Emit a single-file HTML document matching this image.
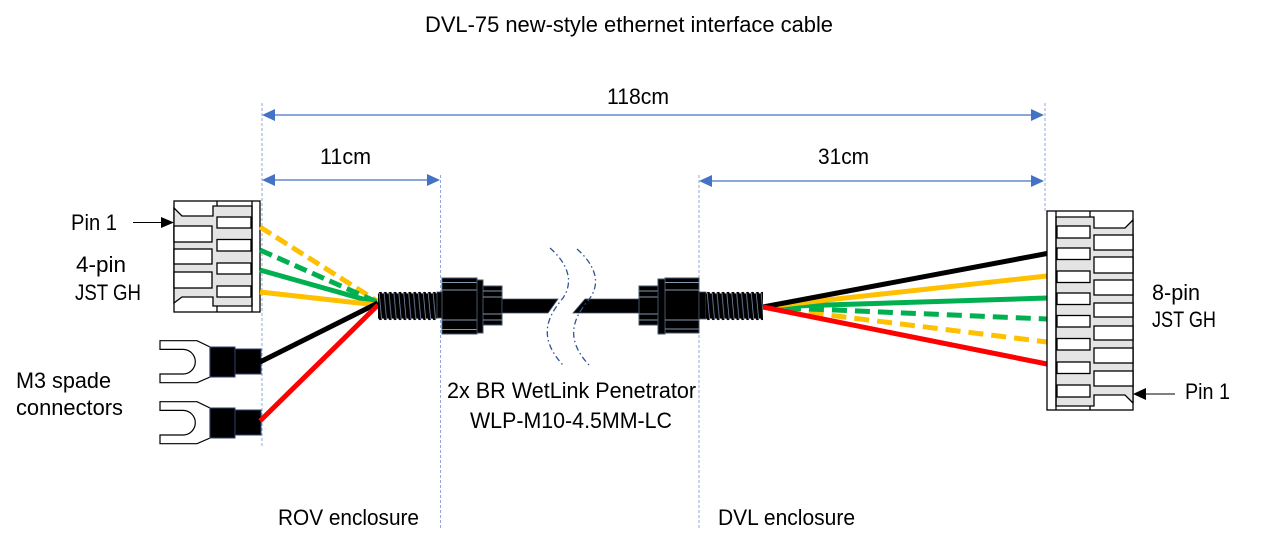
<!DOCTYPE html>
<html><head><meta charset="utf-8"><style>
html,body{margin:0;padding:0;background:#fff;}
svg{display:block;}
text{font-family:"Liberation Sans",Arial,sans-serif;font-size:22px;fill:#000;}
</style></head><body>
<svg width="1261" height="545" viewBox="0 0 1261 545" xmlns="http://www.w3.org/2000/svg">
<defs>
<pattern id="thrL" patternUnits="userSpaceOnUse" x="378" y="291" width="4.9" height="30">
<rect x="0" y="2.5" width="4.9" height="25" fill="#000"/>
<circle cx="2.4" cy="2.6" r="1.7" fill="#000"/>
<circle cx="2.4" cy="27.4" r="1.7" fill="#000"/>
<line x1="1.2" y1="2" x2="3.6" y2="28" stroke="#7d8db0" stroke-width="0.8"/>
</pattern>
<pattern id="thrR" patternUnits="userSpaceOnUse" x="706" y="291" width="4.9" height="30">
<rect x="0" y="2.5" width="4.9" height="25" fill="#000"/>
<circle cx="2.4" cy="2.6" r="1.7" fill="#000"/>
<circle cx="2.4" cy="27.4" r="1.7" fill="#000"/>
<line x1="1.2" y1="2" x2="3.6" y2="28" stroke="#7d8db0" stroke-width="0.8"/>
</pattern>
</defs>

<!-- Title -->
<text x="425" y="32" textLength="408" lengthAdjust="spacingAndGlyphs">DVL-75 new-style ethernet interface cable</text>

<!-- dashed vertical guides -->
<g stroke="#8FAADC" stroke-width="1" stroke-dasharray="3 2" fill="none">
<line x1="262" y1="103" x2="262" y2="446"/>
<line x1="440.5" y1="175" x2="440.5" y2="530"/>
<line x1="699" y1="175" x2="699" y2="530"/>
<line x1="1045" y1="103" x2="1045" y2="211"/>
</g>

<!-- dimension arrows -->
<g stroke="#4472C4" stroke-width="1.3">
<line x1="270" y1="115" x2="1036" y2="115"/>
<line x1="270" y1="180" x2="432" y2="180"/>
<line x1="707" y1="181" x2="1036" y2="181"/>
</g>
<g fill="#4472C4">
<polygon points="262,115 275,109 275,121"/>
<polygon points="1044,115 1031,109 1031,121"/>
<polygon points="262,180 275,174 275,186"/>
<polygon points="440,180 427,174 427,186"/>
<polygon points="699,181 712,175 712,187"/>
<polygon points="1044,181 1031,175 1031,187"/>
</g>
<text x="607" y="104" textLength="62" lengthAdjust="spacingAndGlyphs">118cm</text>
<text x="320" y="164" textLength="51" lengthAdjust="spacingAndGlyphs">11cm</text>
<text x="818" y="164" textLength="51" lengthAdjust="spacingAndGlyphs">31cm</text>

<!-- Left labels -->
<text x="71" y="230" textLength="46" lengthAdjust="spacingAndGlyphs">Pin 1</text>
<text x="76" y="272" textLength="50" lengthAdjust="spacingAndGlyphs">4-pin</text>
<text x="75" y="300" textLength="66" lengthAdjust="spacingAndGlyphs">JST GH</text>
<text x="16" y="388" textLength="95" lengthAdjust="spacingAndGlyphs">M3 spade</text>
<text x="16" y="415" textLength="107" lengthAdjust="spacingAndGlyphs">connectors</text>

<!-- Pin 1 arrow left -->
<line x1="133" y1="222.5" x2="163" y2="222.5" stroke="#000" stroke-width="1"/>
<polygon points="161,217 174,222.5 161,228" fill="#000"/>

<!-- 4-pin connector -->
<g stroke="#000" stroke-width="1.3">
<rect x="174" y="201" width="86" height="111" fill="#fff"/>
<polygon points="174,208 182,216 213,216 213,206 252,206 252,306 213,306 213,297 182,297 174,303" fill="#e4e4e4"/>
<line x1="252" y1="201" x2="252" y2="312"/>
<line x1="217" y1="201" x2="217" y2="206"/>
<line x1="217" y1="306" x2="217" y2="312"/>
<g fill="#fff">
<rect x="174" y="226" width="38" height="16"/>
<rect x="174" y="249" width="38" height="15"/>
<rect x="174" y="272" width="38" height="16"/>
<rect x="217" y="217" width="34" height="11"/>
<rect x="217" y="239.5" width="34" height="11.5"/>
<rect x="217" y="263" width="34" height="11"/>
<rect x="217" y="286" width="34" height="11"/>
</g>
</g>

<!-- Spade connectors -->
<g>
<path d="M160,340.7 L197,340.7 L210,347 L210,377 L197,382.7 L160,382.7 L160,374 L183,374 A12.3,12.3 0 0 0 183,349.4 L160,349.4 Z" fill="#fff" stroke="#000" stroke-width="1.2"/>
<rect x="210" y="347" width="25" height="30" fill="#000" stroke="#2F3F6F" stroke-width="1"/>
<rect x="235" y="349" width="26" height="25" fill="#000" stroke="#2F3F6F" stroke-width="1"/>
</g>
<g transform="translate(0,61)">
<path d="M160,340.7 L197,340.7 L210,347 L210,377 L197,382.7 L160,382.7 L160,374 L183,374 A12.3,12.3 0 0 0 183,349.4 L160,349.4 Z" fill="#fff" stroke="#000" stroke-width="1.2"/>
<rect x="210" y="347" width="25" height="30" fill="#000" stroke="#2F3F6F" stroke-width="1"/>
<rect x="235" y="349" width="26" height="25" fill="#000" stroke="#2F3F6F" stroke-width="1"/>
</g>

<!-- Left wires -->
<g stroke-width="5" fill="none">
<line x1="260" y1="227" x2="377" y2="301" stroke="#FFC000" stroke-dasharray="13 6"/>
<line x1="260" y1="250" x2="377" y2="302" stroke="#00B050" stroke-dasharray="13 6"/>
<line x1="260" y1="270" x2="377" y2="303" stroke="#00B050"/>
<line x1="260" y1="292" x2="377" y2="305" stroke="#FFC000"/>
<line x1="260" y1="362" x2="378" y2="303" stroke="#000"/>
<line x1="260" y1="421" x2="378" y2="305" stroke="#FF0000"/>
</g>

<!-- Left penetrator -->
<rect x="378" y="291" width="59.5" height="30" fill="url(#thrL)"/>
<rect x="437" y="292" width="5" height="26" fill="#000" stroke="#44546A" stroke-width="0.8"/>
<rect x="442" y="278" width="35" height="56" fill="#000" stroke="#44546A" stroke-width="1"/>
<g stroke="#8497B0" stroke-width="1">
<line x1="442" y1="282.5" x2="477" y2="282.5"/>
<line x1="442" y1="290" x2="477" y2="290"/>
<line x1="442" y1="320" x2="477" y2="320"/>
<line x1="442" y1="329.5" x2="477" y2="329.5"/>
</g>
<rect x="477" y="280" width="6" height="53" fill="#000" stroke="#44546A" stroke-width="1"/>
<rect x="483" y="286" width="19" height="39" fill="#000" stroke="#44546A" stroke-width="1"/>
<g stroke="#8497B0" stroke-width="1">
<line x1="483" y1="291" x2="502" y2="291"/>
<line x1="483" y1="297" x2="502" y2="297"/>
<line x1="483" y1="314" x2="502" y2="314"/>
<line x1="483" y1="320" x2="502" y2="320"/>
</g>
<polygon points="502,299 558,299 548,313 502,313" fill="#000" stroke="#44546A" stroke-width="0.8"/>
<polygon points="585,299 639,299 639,313 573,313" fill="#000" stroke="#44546A" stroke-width="0.8"/>

<!-- break marks -->
<g fill="none" stroke="#2F5597" stroke-width="1.3" stroke-dasharray="6 3 1.5 3">
<path d="M550,248 C566,262 575,280 563,298 C549,315 536,336 563,365"/>
<path d="M577,249 C593,263 602,281 590,298 C576,315 562,336 589,365"/>
</g>

<!-- Right penetrator -->
<rect x="639" y="286" width="19" height="39" fill="#000" stroke="#44546A" stroke-width="1"/>
<g stroke="#8497B0" stroke-width="1">
<line x1="639" y1="291" x2="658" y2="291"/>
<line x1="639" y1="297" x2="658" y2="297"/>
<line x1="639" y1="314" x2="658" y2="314"/>
<line x1="639" y1="320" x2="658" y2="320"/>
</g>
<rect x="658" y="279" width="7" height="55" fill="#000" stroke="#44546A" stroke-width="1"/>
<rect x="665" y="278" width="34" height="55" fill="#000" stroke="#44546A" stroke-width="1"/>
<g stroke="#8497B0" stroke-width="1">
<line x1="665" y1="282.5" x2="699" y2="282.5"/>
<line x1="665" y1="290" x2="699" y2="290"/>
<line x1="665" y1="320" x2="699" y2="320"/>
<line x1="665" y1="329" x2="699" y2="329"/>
</g>
<rect x="699" y="292" width="7" height="27" fill="#000" stroke="#44546A" stroke-width="0.8"/>
<rect x="706" y="291" width="57" height="30" fill="url(#thrR)"/>

<!-- Right wires -->
<g stroke-width="5" fill="none">
<line x1="763" y1="307" x2="1047" y2="342" stroke="#FFC000" stroke-dasharray="15 8"/>
<line x1="763" y1="307" x2="1047" y2="319" stroke="#00B050" stroke-dasharray="15 8"/>
<line x1="763" y1="307" x2="1047" y2="298" stroke="#00B050"/>
<line x1="763" y1="307" x2="1047" y2="276" stroke="#FFC000"/>
<line x1="763" y1="307" x2="1047" y2="253.5" stroke="#000"/>
<line x1="763" y1="307" x2="1047" y2="364" stroke="#FF0000"/>
</g>

<!-- 8-pin connector -->
<g stroke="#000" stroke-width="1.3">
<rect x="1047" y="211" width="86" height="199" fill="#fff"/>
<polygon points="1056,217 1094,217 1094,228 1125,228 1133,220 1133,403 1125,395 1094,395 1094,406 1056,406" fill="#e4e4e4"/>
<line x1="1056" y1="211" x2="1056" y2="410"/>
<line x1="1090" y1="211" x2="1090" y2="217"/>
<line x1="1090" y1="406" x2="1090" y2="410"/>
<g fill="#fff">
<rect x="1057" y="226" width="33" height="12"/>
<rect x="1057" y="248" width="33" height="11.5"/>
<rect x="1057" y="271" width="33" height="11.5"/>
<rect x="1057" y="293" width="33" height="11.5"/>
<rect x="1057" y="315.5" width="33" height="11.5"/>
<rect x="1057" y="338.5" width="33" height="11.5"/>
<rect x="1057" y="362" width="33" height="11.5"/>
<rect x="1057" y="385" width="33" height="12"/>
<rect x="1094" y="235" width="39" height="15"/>
<rect x="1094" y="257" width="39" height="16"/>
<rect x="1094" y="280" width="39" height="15"/>
<rect x="1094" y="303" width="39" height="14"/>
<rect x="1094" y="326" width="39" height="14"/>
<rect x="1094" y="348" width="39" height="15"/>
<rect x="1094" y="371" width="39" height="15"/>
</g>
</g>

<!-- Right labels -->
<text x="1152" y="300" textLength="48" lengthAdjust="spacingAndGlyphs">8-pin</text>
<text x="1152" y="327" textLength="64" lengthAdjust="spacingAndGlyphs">JST GH</text>
<text x="1185" y="399" textLength="45" lengthAdjust="spacingAndGlyphs">Pin 1</text>
<line x1="1144" y1="394" x2="1175" y2="394" stroke="#000" stroke-width="1"/>
<polygon points="1146,388 1133,394 1146,400" fill="#000"/>

<!-- Middle labels -->
<text x="447" y="398" textLength="249" lengthAdjust="spacingAndGlyphs">2x BR WetLink Penetrator</text>
<text x="470" y="428" textLength="202" lengthAdjust="spacingAndGlyphs">WLP-M10-4.5MM-LC</text>
<text x="278" y="525" textLength="141" lengthAdjust="spacingAndGlyphs">ROV enclosure</text>
<text x="718" y="525" textLength="137" lengthAdjust="spacingAndGlyphs">DVL enclosure</text>
</svg>
</body></html>
